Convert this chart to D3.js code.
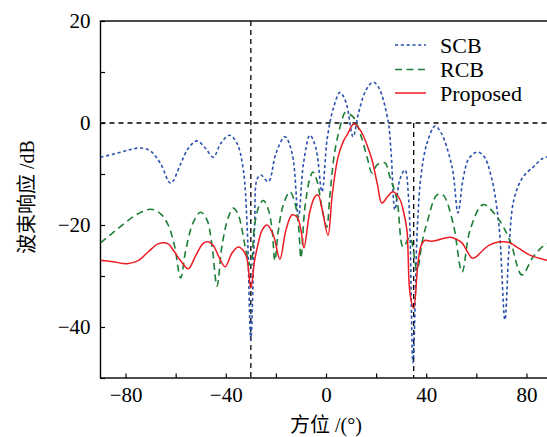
<!DOCTYPE html>
<html>
<head>
<meta charset="utf-8">
<script src="https://cdn.jsdelivr.net/npm/d3@7"></script>
<style>
  body { margin: 0; background: #fff; }
  svg { display: block; }
</style>
</head>
<body>
<div id="chart"></div>
<script>
//////////////////////////////////////////////////////////
//////////////////////// data ////////////////////////////
//////////////////////////////////////////////////////////
var seriesNames = ["SCB", "RCB", "Proposed"];

var scbAngle = [-90, -84, -78, -74, -70, -66, -62, -58, -55, -51.5, -48, -45, -42, -38.5, -35.5, -33, -31.5, -30,
  -28.5, -27.5, -26, -23, -20, -16.4, -13.5, -11, -9, -6.4, -4, -1.6, 0.5, 3, 5.6, 8, 10.8, 13, 16, 18.8, 21,
  24.7, 26, 27.5, 29.5, 31.5, 33, 34.7, 36.5, 38, 40.3, 43.5, 46, 50.3, 52.7, 54.7, 57, 60.3, 63, 66, 69, 71.4,
  73, 75, 78.6, 83, 86.6, 90];
var scbValue = [-6.7, -6.0, -5.2, -4.9, -5.5, -8, -11.8, -8, -5, -3.5, -5, -6.7, -4, -2.4, -4, -9.2, -20, -42.5,
  -20, -11, -10.2, -11.5, -6, -2.7, -6, -18.4, -8, -2.4, -5, -13.5, -3, 3, 6, 4, -2.7, 2, 6.5, 8, 7,
  0.6, -6, -17, -11, -9.2, -15, -47, -20, -10, -4, -0.6, -2, -8.6, -17.6, -11, -7, -5.7, -6.5, -10.6, -20, -38.6,
  -25, -15, -10.6, -8.5, -6.9, -6.5];

var rcbAngle = [-90, -85, -80, -75, -70, -66, -63, -60.5, -58, -56, -53, -50, -47.5, -45.5, -43.5, -41.5, -39,
  -37, -35, -33.5, -31.5, -30, -28.5, -26.5, -25, -23, -21.5, -20.4, -19, -17, -14.4, -12.5, -11, -10, -8.5,
  -6.5, -5.2, -3.5, -1.5, 0.3, 1.5, 3.6, 6.4, 7.6, 10.8, 13.6, 16.4, 18.4, 20.4, 23.5, 25.5, 28.3, 30.8, 33.5,
  36.3, 38.5, 40.3, 44.3, 46.7, 50.7, 54.3, 57.5, 62.7, 68.2, 73.4, 78.2, 82.6, 87.4, 90];
var rcbValue = [-23.5, -21.5, -19.5, -17.8, -16.9, -17.8, -20, -24, -30.4, -25, -19.5, -17.5, -19, -24, -32, -24,
  -18.5, -16.7, -18, -21, -26, -28, -20, -16, -15.2, -17, -21, -27, -21, -16, -13.5, -15.5, -20, -26.5, -17,
  -11, -9.6, -11.5, -17, -20.4, -14.5, -5.3, 0.6, 2, 1.2, -2, -6.7, -9.8, -8.2, -7.8, -10.6, -15, -24.3, -22.4,
  -28.8, -23, -19.6, -14.1, -14.1, -19.6, -29.2, -21, -16, -18.4, -23, -29.8, -26.3, -23.9, -23.5];

var propAngle = [-90, -85, -79.4, -75, -71, -67, -63, -61, -58, -55, -52, -49, -47, -45, -42.5, -40.3, -37.5,
  -35, -33, -31.6, -30, -28.5, -27, -25.5, -23.5, -21, -18.4, -16, -13.5, -11.5, -10, -8.8, -6.5, -4.5, -3.2,
  -1.5, 0.8, 2.5, 4.8, 7, 8.8, 10.5, 11.6, 13, 14.8, 16.5, 18.4, 20.5, 22.3, 24.5, 26.7, 29.5, 31, 32.3, 33.5,
  35, 36.7, 38, 39.5, 42, 44.3, 47, 49.5, 52, 54.3, 56.5, 58.3, 60, 61.5, 65, 69.4, 73.4, 77, 81.4, 85, 88, 90];
var propValue = [-26.9, -27.2, -27.6, -27, -25.3, -23.7, -23.7, -24.9, -27, -28.6, -26, -23.6, -23.3, -24, -26.5,
  -28.2, -25.5, -24.3, -25, -26.5, -32.4, -27, -23.5, -21, -20, -22, -26.7, -21, -18, -18.5, -21, -24.5, -17.5,
  -14.5, -14.1, -17, -22, -14, -6.7, -3.5, -2, -0.4, -0.2, -0.9, -2.4, -4.5, -7.3, -12, -15.7, -14.5, -13.5,
  -15, -17.5, -21, -33.3, -36.3, -27.5, -24, -23, -23.2, -23, -22.6, -22.4, -22.8, -23.5, -25.3, -26.5, -26.2,
  -25.5, -24, -23.3, -23.5, -24.6, -25.9, -26.5, -26.9, -27];

var xTicks = [-80, -60, -40, -20, 0, 20, 40, 60, 80];
var yTicks = [-50, -40, -30, -20, -10, 0, 10, 20];
var guideAngles = [-30, 35];

//////////////////////////////////////////////////////////
//////////////////////// layout //////////////////////////
//////////////////////////////////////////////////////////
var wdim = 547, hdim = 437;
var plot = {left: 100.5, right: 551.5, top: 21, bottom: 378};
var serif = "'Liberation Serif', 'Times New Roman', serif";
var cjk = "'Liberation Serif', 'Noto Sans CJK SC', serif";

var styles = {
  SCB:      {color: "#2a52ad", dash: "3.2,2.6", width: 1.6},
  RCB:      {color: "#1d7e37", dash: "7,4.5",   width: 1.6},
  Proposed: {color: "#ec1c24", dash: null,      width: 1.5}
};

var svg = d3.select("#chart").append("svg")
  .attr("width", wdim)
  .attr("height", hdim);

var x = d3.scaleLinear().domain([-90, 90]).range([plot.left, plot.right]);
var y = d3.scaleLinear().domain([-50, 20]).range([plot.bottom, plot.top]);

svg.append("clipPath").attr("id", "clip")
  .append("rect")
  .attr("x", plot.left).attr("y", plot.top)
  .attr("width", plot.right - plot.left).attr("height", plot.bottom - plot.top);

//////////////////////////////////////////////////////////
//////////////////////// axes ////////////////////////////
//////////////////////////////////////////////////////////
var xAxis = svg.append("g")
  .attr("transform", "translate(0," + plot.bottom + ")")
  .call(d3.axisBottom(x)
    .tickValues(xTicks)
    .tickSizeInner(-4.5)
    .tickSizeOuter(0)
    .tickPadding(9)
    .tickFormat(function(d){ return d % 40 === 0 ? d3.format("")(d) : ""; }));

var yAxis = svg.append("g")
  .attr("transform", "translate(" + plot.left + ",0)")
  .call(d3.axisLeft(y)
    .tickValues(yTicks)
    .tickSizeInner(-4.5)
    .tickSizeOuter(0)
    .tickPadding(10)
    .tickFormat(function(d){ return d % 20 === 0 ? d3.format("")(d) : ""; }));

[xAxis, yAxis].forEach(function(g){
  g.select(".domain").remove();
  g.selectAll(".tick line").attr("stroke", "#000").attr("stroke-width", 1.2);
  g.selectAll(".tick text")
    .attr("fill", "#000")
    .style("font-family", serif)
    .style("font-size", "21px");
});

// frame
svg.append("rect")
  .attr("x", plot.left).attr("y", plot.top)
  .attr("width", plot.right - plot.left)
  .attr("height", plot.bottom - plot.top)
  .attr("fill", "none")
  .attr("stroke", "#000")
  .attr("stroke-width", 1.4);

//////////////////////////////////////////////////////////
//////////////////////// guides //////////////////////////
//////////////////////////////////////////////////////////
var guides = svg.append("g").attr("clip-path", "url(#clip)");

guides.append("line")
  .attr("x1", x(-90)).attr("x2", x(90))
  .attr("y1", y(0)).attr("y2", y(0))
  .attr("stroke", "#000").attr("stroke-width", 1.3)
  .attr("stroke-dasharray", "5,4");

guides.selectAll(".vguide")
  .data(guideAngles)
  .enter().append("line")
  .attr("class", "vguide")
  .attr("x1", function(d){ return x(d); })
  .attr("x2", function(d){ return x(d); })
  .attr("y1", function(d){ return d < 0 ? y(20) : y(0); })
  .attr("y2", y(-50))
  .attr("stroke", "#000").attr("stroke-width", 1.3)
  .attr("stroke-dasharray", "5,4");

//////////////////////////////////////////////////////////
//////////////////////// lines ///////////////////////////
//////////////////////////////////////////////////////////
function zipSeries(angles, values){
  return angles.map(function(a, i){ return [a, values[i]]; });
}

var seriesData = {
  SCB: zipSeries(scbAngle, scbValue),
  RCB: zipSeries(rcbAngle, rcbValue),
  Proposed: zipSeries(propAngle, propValue)
};

var line = d3.line()
  .x(function(d){ return x(d[0]); })
  .y(function(d){ return y(d[1]); })
  .curve(d3.curveCatmullRom.alpha(0.5));

var lines = svg.append("g").attr("clip-path", "url(#clip)");

seriesNames.forEach(function(name){
  var st = styles[name];
  lines.append("path")
    .datum(seriesData[name])
    .attr("fill", "none")
    .attr("stroke", st.color)
    .attr("stroke-width", st.width)
    .attr("stroke-dasharray", st.dash)
    .attr("stroke-linejoin", "round")
    .attr("d", line);
});

//////////////////////////////////////////////////////////
//////////////////////// legend //////////////////////////
//////////////////////////////////////////////////////////
var legend = svg.append("g");
var legendY = [45, 69.5, 93];

legend.selectAll(".key")
  .data(seriesNames)
  .enter().append("line")
  .attr("x1", 395).attr("x2", 426)
  .attr("y1", function(d, i){ return legendY[i]; })
  .attr("y2", function(d, i){ return legendY[i]; })
  .attr("stroke", function(d){ return styles[d].color; })
  .attr("stroke-width", function(d){ return styles[d].width; })
  .attr("stroke-dasharray", function(d){ return styles[d].dash; });

legend.selectAll(".label")
  .data(seriesNames)
  .enter().append("text")
  .attr("x", 440)
  .attr("y", function(d, i){ return legendY[i] + 7.5; })
  .style("font-family", serif)
  .style("font-size", "22px")
  .attr("fill", "#000")
  .text(function(d){ return d; });

//////////////////////////////////////////////////////////
//////////////////////// titles //////////////////////////
//////////////////////////////////////////////////////////
svg.append("text")
  .attr("x", 326)
  .attr("y", 432)
  .attr("text-anchor", "middle")
  .style("font-family", cjk)
  .style("font-size", "20px")
  .attr("fill", "#000")
  .text("方位 /(°)");

svg.append("text")
  .attr("transform", "translate(34,197) rotate(-90)")
  .attr("text-anchor", "middle")
  .style("font-family", cjk)
  .style("font-size", "20px")
  .attr("fill", "#000")
  .text("波束响应 /dB");
</script>
</body>
</html>
